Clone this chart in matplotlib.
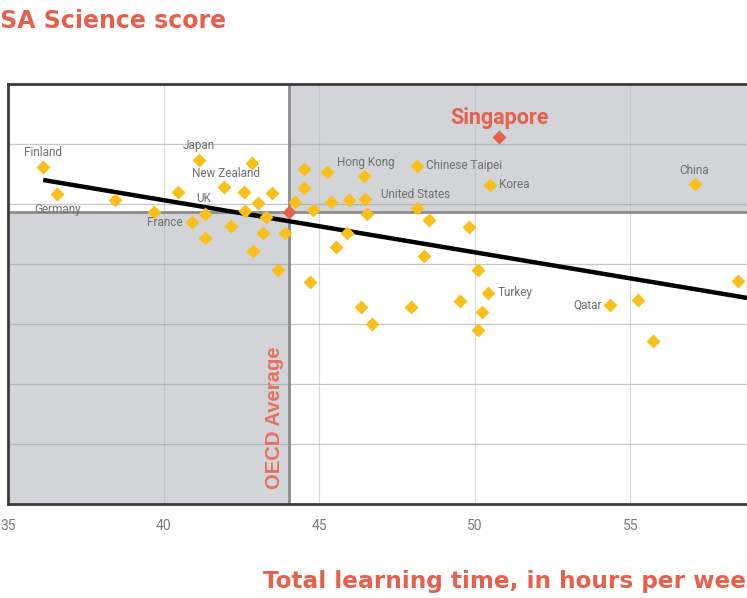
import matplotlib
matplotlib.use("Agg")
import matplotlib.pyplot as plt

# ---------------- data ----------------
hours = [36.13, 36.58, 38.44, 39.69, 40.47, 41.14, 41.95, 42.59, 41.33, 40.92,
         41.33, 42.17, 42.62, 42.85, 43.49, 43.04, 43.30, 43.20, 43.91, 42.88,
         43.68, 44.71, 44.23, 44.52, 44.52, 45.26, 44.81, 45.39, 45.96, 46.45,
         46.48, 46.54, 45.90, 45.55, 48.15, 48.15, 48.54, 49.82, 48.38, 50.11,
         50.43, 49.53, 46.35, 47.96, 50.24, 46.70, 50.11, 50.50, 57.06, 54.36,
         55.26, 55.74, 58.47]
scores = [531, 508, 503, 493, 510, 537, 514, 510, 492, 485,
          472, 482, 494, 534, 509, 501, 489, 476, 476, 461,
          445, 435, 502, 529, 513, 527, 495, 502, 503, 523,
          504, 492, 476, 464, 532, 497, 487, 481, 457, 445,
          426, 419, 414, 414, 410, 400, 395, 516, 517, 416,
          420, 386, 436]
names = ["Finland", "Germany", "", "", "", "Japan", "New Zealand", "", "UK", "France",
         "", "", "", "", "", "", "", "", "", "",
         "", "", "", "", "", "", "", "", "", "Hong Kong",
         "", "", "", "", "Chinese Taipei", "United States", "", "", "", "",
         "Turkey", "", "", "", "", "", "", "Korea", "China", "Qatar",
         "", "", ""]

singapore_hours = 50.79
singapore_score = 556
oecd_hours = 44.04
oecd_score = 493

trend_hours = [36.13, 60.0]
trend_score = [520.0, 416.3]

x_ticks = [35, 40, 45, 50, 55]
x_limits = [35, 60]
y_ticks = [300, 350, 400, 450, 500, 550]
y_limits = [250, 600]

# ---------------- style ----------------
RED = "#e5604d"
YELLOW = "#f9c01c"
SHADE = "#d3d4d7"
LABEL_GRAY = "#6f6f6f"

# label offsets in points (dx, dy, ha)
label_pos = {
    "Finland": (0, 10, "center"),
    "Germany": (0, -11, "center"),
    "Japan": (0, 10, "center"),
    "New Zealand": (1, 10, "center"),
    "UK": (-1, 11, "center"),
    "France": (-7, 0, "right"),
    "Hong Kong": (1, 10, "center"),
    "Chinese Taipei": (6.5, 0, "left"),
    "United States": (-1, 9.5, "center"),
    "Korea": (6.5, 0, "left"),
    "China": (-0.5, 9.5, "center"),
    "Turkey": (7, 0, "left"),
    "Qatar": (-6.5, 0, "right"),
}

W, H = 747, 598
fig = plt.figure(figsize=(W / 100, H / 100), dpi=100)
# axes extends beyond the right edge (the reference is cropped)
ax_left, ax_right, ax_top, ax_bottom = 8, 786, 84, 504
ax = fig.add_axes([ax_left / W, 1 - ax_bottom / H,
                   (ax_right - ax_left) / W, (ax_bottom - ax_top) / H])

xmin, xmax = x_limits
ymin, ymax = y_limits
ax.set_xlim(xmin, xmax)
ax.set_ylim(ymin, ymax)

# shaded quadrants
ax.fill_between([xmin, oecd_hours], ymin, oecd_score, color=SHADE, lw=0, zorder=0)
ax.fill_between([oecd_hours, xmax], oecd_score, ymax, color=SHADE, lw=0, zorder=0)

# grid
for xv in x_ticks[1:]:
    ax.axvline(xv, color="#b9b9b9", lw=0.8, alpha=0.55, zorder=1)
for yv in y_ticks:
    ax.axhline(yv, color="#9a9a9a", lw=0.9, alpha=0.55, zorder=1)

# OECD average lines
ax.axvline(oecd_hours, color="#8c8c8c", lw=2.0, zorder=2)
ax.axhline(oecd_score, color="#8c8c8c", lw=2.0, zorder=2)

# trend line
ax.plot(trend_hours, trend_score, color="black", lw=3.2, solid_capstyle="butt", zorder=3)

# points
ax.plot(hours, scores, linestyle="none", marker="D", ms=7.2, color=YELLOW,
        mec="none", zorder=4)
ax.plot([singapore_hours], [singapore_score], linestyle="none", marker="D", ms=7.2,
        color=RED, mec="none", zorder=5)
ax.plot([oecd_hours], [oecd_score], linestyle="none", marker="D", ms=7.2,
        color=RED, mec="none", zorder=5)

# labels
for h, s, n in zip(hours, scores, names):
    if not n:
        continue
    dx, dy, ha = label_pos[n]
    ax.annotate(n, xy=(h, s), xytext=(dx, dy), textcoords="offset points",
                ha=ha, va="center", fontsize=8.5, color=LABEL_GRAY,
                family="Roboto", zorder=6)

ax.annotate("Singapore", xy=(singapore_hours, singapore_score), xytext=(0, 13.5),
            textcoords="offset points", ha="center", va="center",
            fontsize=15.5, fontweight="bold", color=RED, family="Roboto", zorder=6)

ax.text(oecd_hours - 0.49, 322, "OECD Average", rotation=90, ha="center", va="center",
        fontsize=14.6, fontweight="bold", color="#e8705f",
        family="Liberation Sans", zorder=6)

# axes styling
ax.set_xticks(x_ticks)
ax.set_xticklabels([str(t) for t in x_ticks], family="Roboto", fontsize=10,
                   color="#7a7a7a")
ax.set_yticks([])
ax.tick_params(axis="x", length=0, pad=11)
for side in ["left", "top", "bottom", "right"]:
    ax.spines[side].set_color("#3c3c3c")
    ax.spines[side].set_linewidth(2.0)

# title (cropped at the left in the reference)
fig.text(226 / W, 1 - 28 / H, "PISA Science score", ha="right", va="baseline",
         fontsize=17, fontweight="bold", color=RED, family="DejaVu Sans")

# x axis title (cropped at the right in the reference)
fig.text(263 / W, 1 - 588 / H, "Total learning time, in hours per week",
         ha="left", va="baseline", fontsize=16.7, fontweight="bold", color=RED,
         family="DejaVu Sans")

fig.savefig("out.png", dpi=100)
